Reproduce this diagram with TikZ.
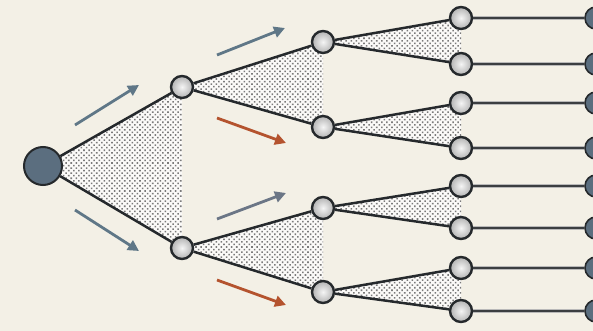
\documentclass[tikz,border=0pt]{standalone}
\usetikzlibrary{arrows.meta,patterns.meta}
\definecolor{bg}{HTML}{F3F0E6}
\definecolor{edgec}{HTML}{25292C}
\definecolor{rootc}{HTML}{5B6E7F}
\definecolor{arrowblue}{HTML}{5F7787}
\definecolor{arrowgray}{HTML}{6B7686}
\definecolor{arroworange}{HTML}{B4532E}
\definecolor{dotc}{HTML}{7A7A7A}
\begin{document}
\begin{tikzpicture}[x=1pt,y=-1pt,
  innernode/.style={circle, draw=edgec, line width=2.4pt, minimum size=22pt, inner sep=0pt, inner color=white!92!gray, outer color=gray!60},
  rootnode/.style={circle, draw=edgec, line width=2pt, fill=rootc, minimum size=38pt, inner sep=0pt},
  leafnode/.style={circle, draw=edgec, line width=1.6pt, fill=rootc, minimum size=22pt, inner sep=0pt},
  branch/.style={draw=edgec, line width=2.5pt},
  tailline/.style={draw=edgec!90, line width=2.4pt, preaction={draw=gray!55, line width=4.6pt}},
  fan/.style={preaction={fill=white!70!bg}, pattern={Dots[distance=3.6pt, radius=1.1pt, angle=45]}, pattern color=dotc},
  flow/.style={line width=2.8pt, -{Triangle[length=11pt, width=11pt]}},
]
\useasboundingbox (0,0) rectangle (593,331);
\fill[bg] (0,0) rectangle (593,331);
\clip (0,0) rectangle (593,331);

% coordinates
\coordinate (R) at (43,166);
\coordinate (A1) at (182,87);
\coordinate (A2) at (182,248);
\coordinate (B1) at (323,42);
\coordinate (B2) at (323,127);
\coordinate (B3) at (323,208);
\coordinate (B4) at (323,292);
\coordinate (C1) at (461,18);
\coordinate (C2) at (461,64);
\coordinate (C3) at (461,103);
\coordinate (C4) at (461,148);
\coordinate (C5) at (461,186);
\coordinate (C6) at (461,228);
\coordinate (C7) at (461,268);
\coordinate (C8) at (461,311);

% dotted fans
\path[fan] (R) -- (A1) -- (A2) -- cycle;
\path[fan] (A1) -- (B1) -- (B2) -- cycle;
\path[fan] (A2) -- (B3) -- (B4) -- cycle;
\path[fan] (B1) -- (C1) -- (C2) -- cycle;
\path[fan] (B2) -- (C3) -- (C4) -- cycle;
\path[fan] (B3) -- (C5) -- (C6) -- cycle;
\path[fan] (B4) -- (C7) -- (C8) -- cycle;

% nodes
\node[rootnode] (r) at (R) {};
\node[innernode] (a1) at (A1) {};
\node[innernode] (a2) at (A2) {};
\node[innernode] (b1) at (B1) {};
\node[innernode] (b2) at (B2) {};
\node[innernode] (b3) at (B3) {};
\node[innernode] (b4) at (B4) {};
\foreach \i in {1,...,8}{
  \node[innernode] (c\i) at (C\i) {};
}
\foreach \i/\y in {1/18,2/64,3/103,4/148,5/186,6/228,7/268,8/311}{
  \node[leafnode] (d\i) at (596,\y) {};
}

% edges
\draw[branch] (r) -- (a1);
\draw[branch] (r) -- (a2);
\draw[branch] (a1) -- (b1);
\draw[branch] (a1) -- (b2);
\draw[branch] (a2) -- (b3);
\draw[branch] (a2) -- (b4);
\draw[branch] (b1) -- (c1);
\draw[branch] (b1) -- (c2);
\draw[branch] (b2) -- (c3);
\draw[branch] (b2) -- (c4);
\draw[branch] (b3) -- (c5);
\draw[branch] (b3) -- (c6);
\draw[branch] (b4) -- (c7);
\draw[branch] (b4) -- (c8);
\foreach \i in {1,...,8}{
  \draw[tailline] (c\i) -- (d\i);
}

% flow arrows
\coordinate (f1s) at (75,125);  \coordinate (f1e) at (139,85);
\coordinate (f2s) at (75,210);  \coordinate (f2e) at (139,251);
\coordinate (f3s) at (217,55);  \coordinate (f3e) at (285,28);
\coordinate (f4s) at (217,118); \coordinate (f4e) at (286,143);
\coordinate (f5s) at (217,219); \coordinate (f5e) at (286,193);
\coordinate (f6s) at (217,280); \coordinate (f6e) at (286,305);
\draw[flow, arrowblue] (f1s) -- (f1e);
\draw[flow, arrowblue] (f2s) -- (f2e);
\draw[flow, arrowblue] (f3s) -- (f3e);
\draw[flow, arroworange] (f4s) -- (f4e);
\draw[flow, arrowgray] (f5s) -- (f5e);
\draw[flow, arroworange] (f6s) -- (f6e);
\end{tikzpicture}
\end{document}
